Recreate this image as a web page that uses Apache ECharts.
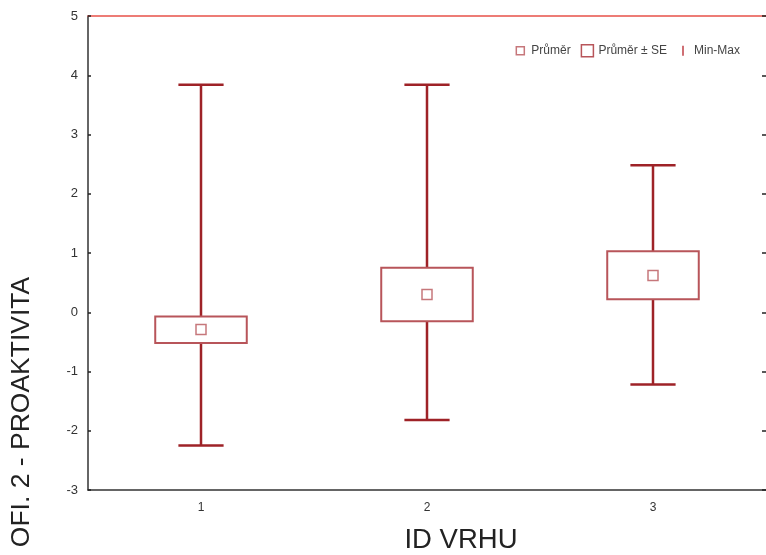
<!DOCTYPE html>
<html>
<head>
<meta charset="utf-8">
<script src="https://cdn.jsdelivr.net/npm/echarts@6/dist/echarts.min.js"></script>
<style>
  html, body { margin: 0; padding: 0; background: #fff; }
  #chart { width: 766px; height: 555px; }
</style>
</head>
<body>
<div id="chart"></div>
<script>
// ---- data ----
var categories = ['1', '2', '3'];
var maxVals   = [3.84, 3.84, 2.48];
var minVals   = [-2.25, -1.82, -1.22];
var seHigh    = [-0.07, 0.75, 1.03];
var seLow     = [-0.52, -0.15, 0.22];
var means     = [-0.29, 0.30, 0.62];
var yTicks    = { min: -3, max: 5, interval: 1 };
var xAxisName = 'ID VRHU';
var yAxisName = 'OFI. 2 - PROAKTIVITA';
var legendNames = ['Průměr', 'Průměr ± SE', 'Min-Max'];

// ---- styles ----
var whiskerColor = '#9e2227';
var boxColor = '#b8555a';
var font = 'Liberation Sans, Arial, sans-serif';

var whiskerData = categories.map(function (c, i) { return [i, minVals[i], maxVals[i]]; });
var boxData = categories.map(function (c, i) { return [i, seLow[i], seHigh[i]]; });
var meanData = categories.map(function (c, i) { return [i, means[i]]; });

var chart = echarts.init(document.getElementById('chart'), null, { renderer: 'canvas' });

chart.setOption({
  animation: false,
  backgroundColor: '#fff',
  grid: { left: 88, right: -1, top: 16, bottom: 65, containLabel: false },
  legend: {
    top: 39, right: 21,
    itemWidth: 12, itemHeight: 12, itemGap: 10,
    textStyle: { fontFamily: font, fontSize: 12, color: '#444' },
    data: [
      { name: legendNames[0], icon: 'path://M0,0M12,12M2,2H10V10H2Z',
        itemStyle: { color: '#fff', borderColor: boxColor, borderWidth: 1.5 } },
      { name: legendNames[1], icon: 'path://M0,0H12V12H0Z',
        itemStyle: { color: '#fff', borderColor: boxColor, borderWidth: 1.5 } },
      { name: legendNames[2], icon: 'path://M0,0M12,12M5,1H7V11H5Z',
        itemStyle: { color: '#cf6f74', borderWidth: 0 } }
    ]
  },
  xAxis: [{
    type: 'category',
    data: categories,
    boundaryGap: true,
    axisLine: { onZero: false, lineStyle: { color: '#333', width: 1.5 } },
    axisTick: { inside: true, alignWithLabel: true, length: 3, lineStyle: { color: '#222', width: 1.5 } },
    axisLabel: { margin: 12, fontFamily: font, fontSize: 12, color: '#333' },
    splitLine: { show: false }
  }, {
    type: 'category',
    data: categories,
    position: 'top',
    boundaryGap: true,
    axisLine: { onZero: false, lineStyle: { color: '#e8524a', width: 1.5 } },
    axisTick: { inside: true, alignWithLabel: true, length: 3, lineStyle: { color: '#222', width: 1.5 } },
    axisLabel: { show: false },
    splitLine: { show: false }
  }],
  yAxis: [{
    type: 'value',
    min: yTicks.min, max: yTicks.max, interval: yTicks.interval,
    axisLine: { show: true, onZero: false, lineStyle: { color: '#333', width: 1.5 } },
    axisTick: { show: true, inside: true, length: 3, lineStyle: { color: '#222', width: 1.5 } },
    axisLabel: { margin: 10, fontFamily: font, fontSize: 13, color: '#333' },
    splitLine: { show: false }
  }, {
    type: 'value',
    position: 'right',
    min: yTicks.min, max: yTicks.max, interval: yTicks.interval,
    axisLine: { show: false, onZero: false },
    axisTick: { show: true, inside: true, length: 4, lineStyle: { color: '#222', width: 1.5 } },
    axisLabel: { show: false },
    splitLine: { show: false }
  }],
  graphic: [
    { type: 'text', x: 461, y: 540,
      style: { text: xAxisName, fontFamily: font, fontSize: 27.5, fill: '#222', align: 'center', verticalAlign: 'middle' } },
    { type: 'text', x: 22, y: 412, rotation: Math.PI / 2,
      style: { text: yAxisName, fontFamily: font, fontSize: 26.5, fill: '#222', align: 'center', verticalAlign: 'middle' } }
  ],
  series: [{
    name: legendNames[2],
    type: 'custom',
    data: whiskerData,
    itemStyle: { color: whiskerColor },
    renderItem: function (params, api) {
      var x = api.value(0);
      var lo = api.coord([x, api.value(1)]);
      var hi = api.coord([x, api.value(2)]);
      var half = api.size([1, 0])[0] * 0.1;
      var st = { stroke: whiskerColor, lineWidth: 2.5, fill: null };
      return { type: 'group', children: [
        { type: 'line', shape: { x1: lo[0], y1: lo[1], x2: hi[0], y2: hi[1] }, style: st },
        { type: 'line', shape: { x1: lo[0] - half, y1: lo[1], x2: lo[0] + half, y2: lo[1] }, style: st },
        { type: 'line', shape: { x1: hi[0] - half, y1: hi[1], x2: hi[0] + half, y2: hi[1] }, style: st }
      ]};
    }
  }, {
    name: legendNames[1],
    type: 'custom',
    data: boxData,
    itemStyle: { color: boxColor },
    renderItem: function (params, api) {
      var x = api.value(0);
      var lo = api.coord([x, api.value(1)]);
      var hi = api.coord([x, api.value(2)]);
      var w = api.size([1, 0])[0] * 0.405;
      return { type: 'rect',
        shape: { x: lo[0] - w / 2, y: hi[1], width: w, height: lo[1] - hi[1] },
        style: { fill: '#fff', stroke: boxColor, lineWidth: 2 } };
    }
  }, {
    name: legendNames[0],
    type: 'scatter',
    data: meanData,
    symbol: 'rect',
    symbolSize: 10,
    itemStyle: { color: '#fff', borderColor: boxColor, borderWidth: 1.5 },
    z: 5
  }]
});
</script>
</body>
</html>
